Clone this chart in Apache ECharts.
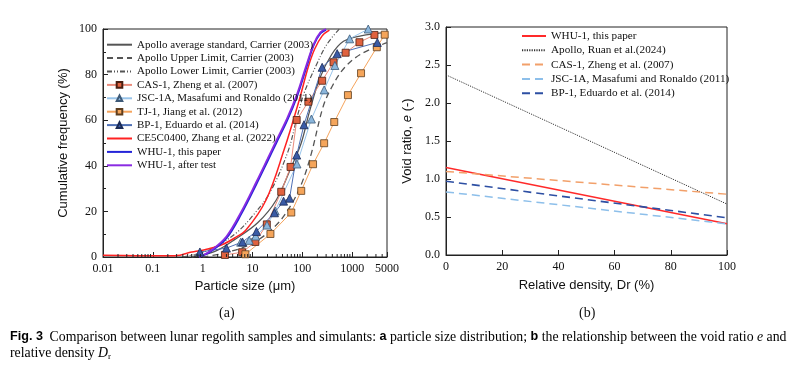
<!DOCTYPE html>
<html><head><meta charset="utf-8">
<script src="https://cdn.jsdelivr.net/npm/echarts@6/dist/echarts.min.js"></script>
<style>html,body{margin:0;padding:0;background:#fff}#c{width:800px;height:368px}</style>
</head><body><div id="c"></div>
<script>
// ---------- (a) particle size distribution ----------
const xTickLabels = ['0.01', '0.1', '1', '10', '100', '1000', '5000'];

const apolloAvgD = [0.6, 1, 2, 4.3, 12.7, 30, 60, 95, 140, 225, 385, 670, 1500, 5000];
const apolloAvgV = [0, 0.8, 3, 7.5, 15, 25, 39.5, 50, 64, 78.5, 88.7, 94.6, 97, 98.5];

const apolloUpD = [1, 3, 10, 30, 60, 100, 152, 262, 400, 700, 1500, 5000];
const apolloUpV = [0, 2, 6, 14, 23, 33, 45.5, 66, 75, 83, 89, 94];

const apolloLowD = [0.4, 1, 2, 5, 10, 22, 51, 80, 111, 192, 305, 550];
const apolloLowV = [0, 2, 5, 11, 18, 28, 46, 62, 72.5, 84.3, 93, 100];

const casD = [2.8, 6.2, 11.4, 19.4, 37.7, 58, 77, 132, 250, 423, 740, 1400, 2800];
const casV = [0.9, 2.1, 6.6, 14.3, 28.6, 39.5, 60.1, 68.1, 77.3, 85.4, 89.6, 94.2, 97.4];

const jscD = [5.8, 8.6, 11.6, 19.5, 28.5, 78, 152, 274, 450, 890, 2100];
const jscV = [6.5, 7.3, 9.2, 14, 20.2, 40.8, 60.5, 73.3, 84, 95.7, 100];

const tjD = [7.2, 22.9, 60, 95, 164, 274, 437, 823, 1507, 3126, 4500];
const tjV = [1.2, 10.1, 19.5, 29, 40.7, 49.9, 59.2, 71, 80.6, 92, 97.5];

const bpD = [0.88, 3.0, 6.3, 12, 27.6, 42, 55.5, 77, 108, 250, 500, 3200];
const bpV = [2.2, 3.9, 6.6, 11.2, 19.4, 24.5, 25.8, 44.7, 58, 83.2, 89.2, 94.1];

const ce5D = [0.01, 0.05, 0.2, 0.35, 0.5, 0.8, 1.2, 2.5, 4.5, 7.4, 18.7, 43, 87, 130, 175, 250, 350];
const ce5V = [0.8, 0.6, 0.5, 0.8, 1.8, 2.6, 3.4, 5.5, 8.5, 11.8, 25, 47, 69, 83, 91, 97, 99.5];

const whuD = [0.85, 1.5, 3, 6, 12, 20, 30, 50, 80, 120, 170, 230, 300];
const whuV = [0, 2.6, 8.2, 19, 32, 42, 50, 60, 71, 83, 93, 98, 99.7];

const whuTestD = [0.85, 1.5, 3, 6, 12, 20, 30, 50, 80, 120, 170, 230, 300];
const whuTestV = [0, 3, 9, 20, 33, 43, 51, 61, 72, 84, 93.5, 98.5, 100];

// ---------- (b) void ratio vs relative density ----------
const drX = [0, 100];
const whuE = [1.15, 0.41];
const apolloE = [2.37, 0.67];
const casE = [1.10, 0.80];
const jscE = [0.83, 0.41];
const bpE = [0.97, 0.49];

const pairs = (xs, ys) => xs.map((x, i) => [x, ys[i]]);

const minorTicks = [];
for (let k = -2; k <= 3; k++) for (let m = 2; m <= 9; m++) { const v = m * Math.pow(10, k); if (v < 5000) minorTicks.push(+v.toPrecision(3)); }

const SERIF = 'Liberation Serif, Times New Roman, serif';
const SANS = 'Liberation Sans, Arial, sans-serif';
const AX = '#222';

const leftNames = ['Apollo average standard, Carrier (2003)', 'Apollo Upper Limit, Carrier (2003)', 'Apollo Lower Limit, Carrier (2003)',
  'CAS-1, Zheng et al. (2007)', 'JSC-1A, Masafumi and Ronaldo (2011)', 'TJ-1, Jiang et al. (2012)', 'BP-1, Eduardo et al. (2014)',
  'CE5C0400, Zhang et al. (2022)', 'WHU-1, this paper', 'WHU-1, after test'];
const rightNames = ['WHU-1, this paper ', 'Apollo, Ruan et al.(2024)', 'CAS-1, Zheng et al. (2007) ', 'JSC-1A, Masafumi and Ronaldo (2011) ', 'BP-1, Eduardo et al. (2014) '];
const markerIdx = [3, 4, 5, 6];
const noSym = { color: 'rgba(0,0,0,0)', borderWidth: 0, opacity: 0 };

function lineS(name, d, v, color, opts) {
  return Object.assign({
    name, type: 'line', xAxisIndex: 0, yAxisIndex: 0, data: pairs(d, v), symbol: 'none', smooth: 0.35,
    lineStyle: { color, width: 1.3 }, itemStyle: { color }
  }, opts || {});
}
function markS(name, d, v, lineColor, fill, border, symbol, size) {
  return {
    name, type: 'line', xAxisIndex: 0, yAxisIndex: 0, data: pairs(d, v), symbol, symbolSize: size, showSymbol: true,
    lineStyle: { color: lineColor, width: 1 }, itemStyle: { color: fill, borderColor: border, borderWidth: 0.8 }
  };
}
function rS(name, e, color, type, width) {
  return { name, type: 'line', xAxisIndex: 1, yAxisIndex: 1, data: pairs(drX, e), symbol: 'none',
    lineStyle: { color, width, type }, itemStyle: { color } };
}

const axisCommon = {
  axisLine: { show: true, lineStyle: { color: AX, width: 1 } },
  axisTick: { show: true, inside: true, length: 5, lineStyle: { color: AX } },
  splitLine: { show: false },
  axisLabel: { fontFamily: SERIF, fontSize: 12, color: '#111', margin: 6 },
  nameLocation: 'middle',
  nameTextStyle: { fontFamily: SANS, fontSize: 13, color: '#111' }
};

const chart = echarts.init(document.getElementById('c'));
chart.setOption({
  animation: false,
  backgroundColor: '#fff',
  grid: [
    { left: 103, top: 29, width: 284, height: 228, show: true, borderColor: AX, borderWidth: 1 },
    { left: 446, top: 27, width: 281, height: 228, show: true, borderColor: AX, borderWidth: 1 }
  ],
  xAxis: [
    Object.assign({}, axisCommon, {
      gridIndex: 0, type: 'log', logBase: 10, min: 0.01, max: 5000, name: 'Particle size (μm)', nameGap: 22,
      axisLabel: Object.assign({}, axisCommon.axisLabel, { formatter: v => { const s = String(+(+v).toPrecision(4)); return xTickLabels.includes(s) ? s : ''; } })
    }),
    Object.assign({}, axisCommon, {
      gridIndex: 1, type: 'value', min: 0, max: 100, interval: 20, name: 'Relative density, Dr (%)', nameGap: 24
    })
  ],
  yAxis: [
    Object.assign({}, axisCommon, {
      gridIndex: 0, type: 'value', min: 0, max: 100, interval: 20, name: 'Cumulative frequency (%)', nameGap: 33,
      minorTick: { show: true, splitNumber: 2, length: 3, lineStyle: { color: AX } }
    }),
    Object.assign({}, axisCommon, {
      gridIndex: 1, type: 'value', min: 0, max: 3, interval: 0.5, nameGap: 32,
      name: '{n|Void ratio, }{i|e}{n| (-)}',
      nameTextStyle: { rich: { n: { fontFamily: SANS, fontSize: 13, color: '#111' }, i: { fontFamily: SANS, fontStyle: 'italic', fontSize: 13, color: '#111' } } },
      axisLabel: Object.assign({}, axisCommon.axisLabel, { formatter: v => v.toFixed(1) })
    })
  ],
  legend: [
    { data: leftNames.map((n, i) => markerIdx.includes(i) ? n : { name: n, itemStyle: noSym }),
      orient: 'vertical', left: 101, top: 34, itemWidth: 25, itemHeight: 7, itemGap: 2,
      textStyle: { fontFamily: SERIF, fontSize: 11, color: '#111', lineHeight: 11.4 } },
    { data: rightNames.map(n => ({ name: n, itemStyle: noSym })),
      orient: 'vertical', left: 516, top: 25, itemWidth: 24, itemHeight: 8, itemGap: 2.3,
      textStyle: { fontFamily: SERIF, fontSize: 11.2, color: '#111', lineHeight: 12 },
      formatter: n => n.trim() }
  ],
  series: [
    lineS(leftNames[0], apolloAvgD, apolloAvgV, '#555555'),
    lineS(leftNames[1], apolloUpD, apolloUpV, '#555555', { lineStyle: { color: '#555555', width: 1.3, type: [6, 4] } }),
    lineS(leftNames[2], apolloLowD, apolloLowV, '#555555', { lineStyle: { color: '#555555', width: 1.2, type: [5, 2, 1, 2, 1, 2] } }),
    markS(leftNames[3], casD, casV, '#ea8c7c', '#e0623f', '#4a1e10', 'rect', 7),
    markS(leftNames[4], jscD, jscV, '#98c4ea', '#8ab6dc', '#3e5a78', 'triangle', 8),
    markS(leftNames[5], tjD, tjV, '#f6a45c', '#f5a55a', '#5e3e1e', 'rect', 7),
    markS(leftNames[6], bpD, bpV, '#4f70b5', '#3a5ba6', '#1a2a55', 'triangle', 8),
    lineS(leftNames[7], ce5D, ce5V, '#ff2222', { lineStyle: { color: '#ff2222', width: 1.5 } }),
    lineS(leftNames[8], whuD, whuV, '#2424d8', { lineStyle: { color: '#2424d8', width: 1.8 } }),
    lineS(leftNames[9], whuTestD, whuTestV, '#8a2be2', { lineStyle: { color: '#8a2be2', width: 1.8 } }),
    {
      type: 'custom', xAxisIndex: 0, yAxisIndex: 0, silent: true, clip: false, z: 5,
      data: minorTicks.map(v => [v, 0]),
      renderItem: (p, api) => { const c = api.coord([api.value(0), 0]); return { type: 'line', shape: { x1: c[0], y1: c[1], x2: c[0], y2: c[1] - 3 }, style: { stroke: AX, lineWidth: 1 } }; }
    },
    rS(rightNames[0], whuE, '#ff2a2a', 'solid', 1.5),
    rS(rightNames[1], apolloE, '#333333', [1.2, 1.2], 1),
    rS(rightNames[2], casE, '#f2a06a', [8, 5], 1.5),
    rS(rightNames[3], jscE, '#8dbfea', [8, 5], 1.5),
    rS(rightNames[4], bpE, '#2d4fa3', [8, 5], 1.6)
  ],
  graphic: [
    { type: 'text', left: 228 - 9, top: 306, style: { text: '(a)', font: '14px ' + SERIF, fill: '#111' } },
    { type: 'text', left: 588 - 9, top: 306, style: { text: '(b)', font: '14px ' + SERIF, fill: '#111' } },
    { type: 'text', left: 10, top: 330, style: {
      text: '{b|Fig. 3}  {t|Comparison between lunar regolith samples and simulants: }{b|a}{t| particle size distribution; }{b|b}{t| the relationship between the void ratio }{i|e}{t| and}',
      rich: {
        b: { fontFamily: SANS, fontWeight: 'bold', fontSize: 12.6, color: '#111' },
        t: { fontFamily: SERIF, fontSize: 13.8, color: '#111' },
        i: { fontFamily: SERIF, fontStyle: 'italic', fontSize: 13.8, color: '#111' }
      } } },
    { type: 'text', left: 10, top: 346, style: {
      text: '{t|relative density }{i|D}{s|r}',
      rich: {
        t: { fontFamily: SERIF, fontSize: 13.8, color: '#111', lineHeight: 16 },
        i: { fontFamily: SERIF, fontStyle: 'italic', fontSize: 13.8, color: '#111', lineHeight: 16 },
        s: { fontFamily: SERIF, fontSize: 9, color: '#111', lineHeight: 16, verticalAlign: 'bottom', padding: [4, 0, 0, 0] }
      } } }
  ]
});
</script></body></html>
